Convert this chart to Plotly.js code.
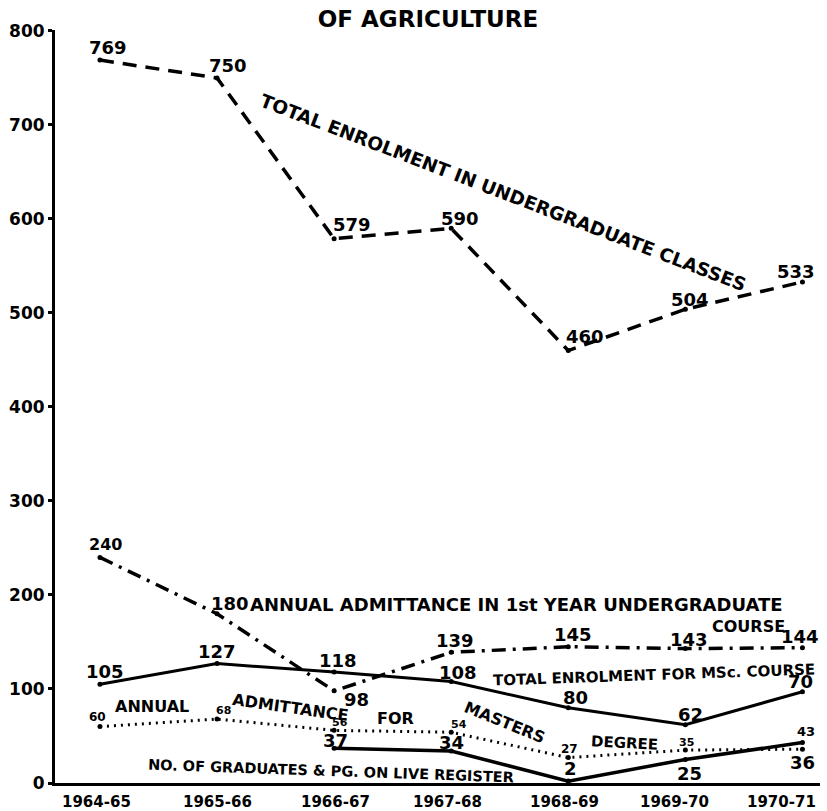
<!DOCTYPE html>
<html>
<head>
<meta charset="utf-8">
<script src="https://cdn.plot.ly/plotly-3.0.1.min.js"></script>
<style>html,body{margin:0;padding:0;background:#fff;}#chart{width:827px;height:811px;}</style>
</head>
<body>
<div id="chart"></div>
<script>
// ---- data ----
const years = ["1964-65","1965-66","1966-67","1967-68","1968-69","1969-70","1970-71"];
const ugEnrolment   = [769, 750, 579, 590, 460, 504, 533];
const ugAdmittance  = [240, 180, 98, 139, 145, 143, 144];
const mscEnrolment  = [105, 127, 118, 108, 80, 62, 97];
const mscLabels     = ["105","127","118","108","80","62","70"];
const mastersAdmit  = [60, 68, 56, 54, 27, 35, 36];
const graduatesLive = [null, null, 37, 34, 2, 25, 43];
const yTicks = [0,100,200,300,400,500,600,700,800];

// ---- layout geometry helpers (pixel -> data) ----
const L = 55, R = 7, T = 30, B = 28, W = 827, H = 811;
const xr = [-0.384, 6.15], yr = [0, 801];
const pw = W - L - R, ph = H - T - B;
const X = px => xr[0] + (px - L) / pw * (xr[1] - xr[0]);
const Y = py => yr[0] + (H - B - py) / ph * (yr[1] - yr[0]);

const FONT = "DejaVu Sans, Liberation Sans, sans-serif";
const black = "#000";

function line(y, dash, width, name) {
  return {
    x: years.map((_, i) => i), y: y, type: "scatter", mode: "lines+markers",
    name: name, connectgaps: false,
    line: {color: black, width: width, dash: dash},
    marker: {color: black, size: 5},
    hoverinfo: "x+y"
  };
}

const traces = [
  line(ugEnrolment, "14px,9px", 3.5, "Total enrolment in undergraduate classes"),
  line(ugAdmittance, "14px,7px,3px,7px", 3.5, "Annual admittance in 1st year undergraduate course"),
  line(mscEnrolment, "solid", 3, "Total enrolment for M.Sc. course"),
  line(mastersAdmit, "2px,5px", 3, "Annual admittance for masters degree"),
  line(graduatesLive, "solid", 3.5, "No. of graduates & P.G. on live register")
];

const annotations = [];
function valueLabels(vals, texts, offsets, size) {
  vals.forEach((v, i) => {
    if (v === null) return;
    annotations.push({
      x: i, y: v, xref: "x", yref: "y", text: texts[i], showarrow: false,
      xshift: offsets[i][0], yshift: -offsets[i][1],
      font: {family: FONT, size: (Array.isArray(size) ? size[i] : size), color: black, weight: "bold"}
    });
  });
}
valueLabels(ugEnrolment, ugEnrolment.map(String),
  [[8,-13],[11,-12],[18,-14],[9,-10],[17,-14],[5,-10],[-6,-10]], 18);
valueLabels(ugAdmittance, ugAdmittance.map(String),
  [[6,-13],[13,-10],[22,9],[4,-12],[5,-12],[4,-9],[-2,-11]], [16,18,18,18,18,18,18]);
valueLabels(mscEnrolment, mscLabels,
  [[5,-13],[0,-12],[4,-12],[7,-9],[7,-10],[5,-10],[-2,-10]], 18);
valueLabels(mastersAdmit, mastersAdmit.map(String),
  [[-2,-10],[6,-9],[6,-8],[8,-8],[1,-9],[1,-8],[0,13]], [12,11,11,11,12,11,18]);
valueLabels(graduatesLive, graduatesLive.map(v => v === null ? "" : String(v)),
  [[0,0],[0,0],[1,-8],[0,-9],[2,-13],[4,14],[4,-11]], [18,18,18,18,18,18,13]);

// category labels under the axis (hand-lettered positions)
const catShift = [-3, 0, 1, -4, -4, -11, -21];
years.forEach((yr_, i) => {
  annotations.push({
    x: i, y: 0, xref: "x", yref: "paper", yanchor: "top", yshift: -8,
    xshift: catShift[i], text: yr_, showarrow: false,
    font: {family: FONT, size: 15, color: black, weight: "bold"}
  });
});

function txt(text, px, py, size, angle) {
  annotations.push({
    x: X(px), y: Y(py), xref: "x", yref: "y", text: text, showarrow: false,
    textangle: angle || 0,
    font: {family: FONT, size: size, color: black, weight: "bold"}
  });
}
txt("TOTAL ENROLMENT IN UNDERGRADUATE CLASSES", 503, 192, 18.5, 21);
txt("ANNUAL ADMITTANCE IN 1st YEAR UNDERGRADUATE", 516, 604, 18, 0);
txt("COURSE", 748, 626, 16, 0);
txt("TOTAL ENROLMENT FOR MSc. COURSE", 654, 675, 15, -2);
txt("ANNUAL", 152, 706, 16, 0);
txt("ADMITTANCE", 290, 707, 16, 8);
txt("FOR", 395, 718, 16, 0);
txt("MASTERS", 505, 722, 16, 22);
txt("DEGREE", 624, 743, 15, 3);
txt("NO. OF GRADUATES &amp; PG. ON LIVE REGISTER", 331, 771, 14.5, 2);

const layout = {
  width: W, height: H,
  margin: {l: L, r: R, t: T, b: B, pad: 0},
  paper_bgcolor: "#fff", plot_bgcolor: "#fff",
  showlegend: false,
  title: {
    text: "OF AGRICULTURE",
    x: 428 / W, xanchor: "center", y: 1 - 19 / H, yanchor: "middle",
    font: {family: FONT, size: 23, color: black, weight: "bold"}
  },
  xaxis: {
    range: xr, tickmode: "array", tickvals: years.map((_, i) => i), ticktext: years,
    showticklabels: false,
    showgrid: false, zeroline: false, showline: true, linecolor: black, linewidth: 3,
    ticks: ""
  },
  yaxis: {
    range: yr, tickmode: "array", tickvals: yTicks, ticktext: yTicks.map(String),
    showgrid: false, zeroline: false, showline: true, linecolor: black, linewidth: 3,
    ticks: "outside", ticklen: 4, tickwidth: 3, tickcolor: black,
    tickfont: {family: FONT, size: 17, color: black, weight: "bold"}
  },
  annotations: annotations
};

Plotly.newPlot("chart", traces, layout, {displayModeBar: false, staticPlot: true});
</script>
</body>
</html>
